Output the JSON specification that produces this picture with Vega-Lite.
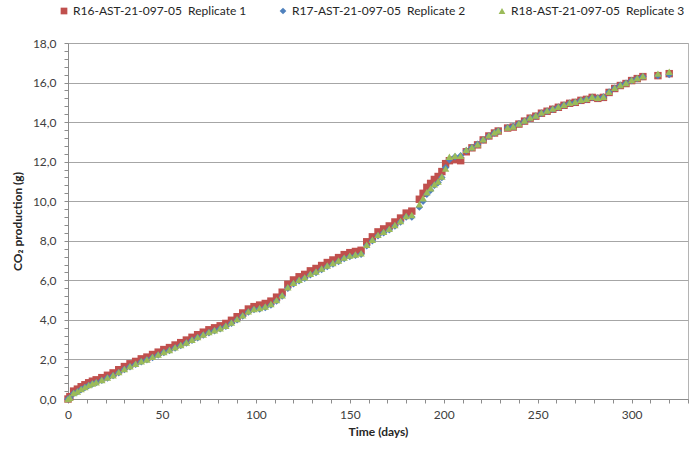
{
  "$schema": "https://vega.github.io/schema/vega-lite/v6.json",
  "width": 620,
  "height": 356,
  "autosize": "none",
  "padding": {"left": 68, "top": 43, "right": 5, "bottom": 50},
  "background": "white",
  "config": {
    "font": "Lato",
    "view": {"stroke": "#b4b4b4", "strokeWidth": 1},
    "axis": {"labelFont": "Lato", "titleFont": "Lato", "labelColor": "#404040", "titleColor": "#262626", "labelFontSize": 12, "titleFontSize": 12, "titleFontWeight": "bold", "domainColor": "#8c8c8c", "tickColor": "#8c8c8c", "gridColor": "#a6a6a6", "gridWidth": 1.2}
  },
  "datasets": {
    "r16": [
      {"t":0,"y":0},{"t":1,"y":0.12},{"t":3,"y":0.4},{"t":5,"y":0.5},{"t":7,"y":0.62},{"t":9,"y":0.72},{"t":11,"y":0.82},{"t":13,"y":0.9},{"t":15,"y":0.97},{"t":18,"y":1.08},{"t":21,"y":1.2},{"t":24,"y":1.32},{"t":27,"y":1.48},{"t":30,"y":1.64},{"t":33,"y":1.78},{"t":36,"y":1.9},{"t":39,"y":2.03},{"t":42,"y":2.12},{"t":45,"y":2.25},{"t":48,"y":2.37},{"t":51,"y":2.5},{"t":54,"y":2.6},{"t":57,"y":2.73},{"t":60,"y":2.85},{"t":63,"y":2.98},{"t":66,"y":3.12},{"t":69,"y":3.25},{"t":72,"y":3.38},{"t":75,"y":3.5},{"t":78,"y":3.6},{"t":81,"y":3.7},{"t":84,"y":3.82},{"t":87,"y":3.98},{"t":90,"y":4.16},{"t":93,"y":4.35},{"t":96,"y":4.55},{"t":99,"y":4.67},{"t":102,"y":4.75},{"t":105,"y":4.83},{"t":108,"y":4.95},{"t":111,"y":5.15},{"t":114,"y":5.4},{"t":117,"y":5.8},{"t":120,"y":6.02},{"t":123,"y":6.18},{"t":126,"y":6.3},{"t":129,"y":6.48},{"t":132,"y":6.6},{"t":135,"y":6.75},{"t":138,"y":6.9},{"t":141,"y":7.03},{"t":144,"y":7.15},{"t":147,"y":7.3},{"t":150,"y":7.4},{"t":153,"y":7.46},{"t":156,"y":7.52},{"t":159,"y":7.95},{"t":162,"y":8.2},{"t":165,"y":8.45},{"t":168,"y":8.6},{"t":171,"y":8.75},{"t":174,"y":8.95},{"t":177,"y":9.15},{"t":180,"y":9.4},{"t":183,"y":9.5},{"t":187,"y":10.1},{"t":189,"y":10.4},{"t":191,"y":10.7},{"t":193,"y":10.9},{"t":195,"y":11.1},{"t":197,"y":11.25},{"t":199,"y":11.5},{"t":201,"y":11.9},{"t":203,"y":12.05},{"t":206,"y":12.1},{"t":209,"y":12.05},{"t":212,"y":12.5},{"t":215,"y":12.7},{"t":218,"y":12.85},{"t":221,"y":13.1},{"t":224,"y":13.3},{"t":227,"y":13.45},{"t":229,"y":13.55},{"t":234,"y":13.7},{"t":237,"y":13.75},{"t":240,"y":13.9},{"t":243,"y":14.05},{"t":246,"y":14.2},{"t":249,"y":14.3},{"t":252,"y":14.45},{"t":255,"y":14.55},{"t":258,"y":14.65},{"t":261,"y":14.75},{"t":264,"y":14.85},{"t":267,"y":14.95},{"t":270,"y":15.0},{"t":273,"y":15.1},{"t":276,"y":15.15},{"t":279,"y":15.25},{"t":282,"y":15.2},{"t":285,"y":15.25},{"t":288,"y":15.5},{"t":291,"y":15.7},{"t":294,"y":15.85},{"t":297,"y":15.95},{"t":300,"y":16.1},{"t":303,"y":16.2},{"t":306,"y":16.3},{"t":314,"y":16.35},{"t":320,"y":16.45}
    ],
    "r17": [
      {"t":0,"y":0},{"t":1,"y":0.05},{"t":3,"y":0.28},{"t":5,"y":0.36},{"t":7,"y":0.48},{"t":9,"y":0.58},{"t":11,"y":0.68},{"t":13,"y":0.76},{"t":15,"y":0.83},{"t":18,"y":0.94},{"t":21,"y":1.06},{"t":24,"y":1.18},{"t":27,"y":1.33},{"t":30,"y":1.49},{"t":33,"y":1.63},{"t":36,"y":1.75},{"t":39,"y":1.88},{"t":42,"y":1.98},{"t":45,"y":2.1},{"t":48,"y":2.22},{"t":51,"y":2.35},{"t":54,"y":2.45},{"t":57,"y":2.58},{"t":60,"y":2.7},{"t":63,"y":2.83},{"t":66,"y":2.97},{"t":69,"y":3.1},{"t":72,"y":3.23},{"t":75,"y":3.35},{"t":78,"y":3.45},{"t":81,"y":3.55},{"t":84,"y":3.67},{"t":87,"y":3.83},{"t":90,"y":4.0},{"t":93,"y":4.2},{"t":96,"y":4.4},{"t":99,"y":4.52},{"t":102,"y":4.55},{"t":105,"y":4.63},{"t":108,"y":4.75},{"t":111,"y":4.95},{"t":114,"y":5.2},{"t":117,"y":5.6},{"t":120,"y":5.82},{"t":123,"y":5.98},{"t":126,"y":6.1},{"t":129,"y":6.28},{"t":132,"y":6.4},{"t":135,"y":6.55},{"t":138,"y":6.7},{"t":141,"y":6.83},{"t":144,"y":6.95},{"t":147,"y":7.1},{"t":150,"y":7.2},{"t":153,"y":7.26},{"t":156,"y":7.32},{"t":159,"y":7.75},{"t":162,"y":8.0},{"t":165,"y":8.25},{"t":168,"y":8.4},{"t":171,"y":8.55},{"t":174,"y":8.75},{"t":177,"y":8.95},{"t":180,"y":9.2},{"t":183,"y":9.2},{"t":187,"y":9.7},{"t":189,"y":10.0},{"t":191,"y":10.35},{"t":193,"y":10.55},{"t":195,"y":10.8},{"t":197,"y":10.95},{"t":199,"y":11.2},{"t":201,"y":11.7},{"t":203,"y":12.1},{"t":206,"y":12.25},{"t":209,"y":12.3},{"t":212,"y":12.55},{"t":215,"y":12.72},{"t":218,"y":12.88},{"t":221,"y":13.1},{"t":224,"y":13.3},{"t":227,"y":13.45},{"t":229,"y":13.55},{"t":234,"y":13.72},{"t":237,"y":13.78},{"t":240,"y":13.92},{"t":243,"y":14.05},{"t":246,"y":14.2},{"t":249,"y":14.3},{"t":252,"y":14.45},{"t":255,"y":14.55},{"t":258,"y":14.65},{"t":261,"y":14.75},{"t":264,"y":14.85},{"t":267,"y":14.95},{"t":270,"y":15.0},{"t":273,"y":15.1},{"t":276,"y":15.15},{"t":279,"y":15.25},{"t":282,"y":15.22},{"t":285,"y":15.27},{"t":288,"y":15.52},{"t":291,"y":15.72},{"t":294,"y":15.87},{"t":297,"y":15.97},{"t":300,"y":16.1},{"t":303,"y":16.2},{"t":306,"y":16.3},{"t":314,"y":16.35},{"t":320,"y":16.4}
    ],
    "r18": [
      {"t":0,"y":0},{"t":1,"y":0.06},{"t":3,"y":0.3},{"t":5,"y":0.38},{"t":7,"y":0.5},{"t":9,"y":0.6},{"t":11,"y":0.7},{"t":13,"y":0.78},{"t":15,"y":0.85},{"t":18,"y":0.96},{"t":21,"y":1.08},{"t":24,"y":1.2},{"t":27,"y":1.36},{"t":30,"y":1.52},{"t":33,"y":1.66},{"t":36,"y":1.78},{"t":39,"y":1.91},{"t":42,"y":2.0},{"t":45,"y":2.13},{"t":48,"y":2.25},{"t":51,"y":2.38},{"t":54,"y":2.48},{"t":57,"y":2.61},{"t":60,"y":2.73},{"t":63,"y":2.86},{"t":66,"y":3.0},{"t":69,"y":3.13},{"t":72,"y":3.26},{"t":75,"y":3.38},{"t":78,"y":3.48},{"t":81,"y":3.58},{"t":84,"y":3.7},{"t":87,"y":3.86},{"t":90,"y":4.04},{"t":93,"y":4.23},{"t":96,"y":4.43},{"t":99,"y":4.55},{"t":102,"y":4.6},{"t":105,"y":4.68},{"t":108,"y":4.8},{"t":111,"y":5.0},{"t":114,"y":5.25},{"t":117,"y":5.65},{"t":120,"y":5.87},{"t":123,"y":6.03},{"t":126,"y":6.15},{"t":129,"y":6.33},{"t":132,"y":6.45},{"t":135,"y":6.6},{"t":138,"y":6.75},{"t":141,"y":6.88},{"t":144,"y":7.0},{"t":147,"y":7.15},{"t":150,"y":7.25},{"t":153,"y":7.31},{"t":156,"y":7.37},{"t":159,"y":7.8},{"t":162,"y":8.05},{"t":165,"y":8.3},{"t":168,"y":8.45},{"t":171,"y":8.6},{"t":174,"y":8.8},{"t":177,"y":9.0},{"t":180,"y":9.25},{"t":183,"y":9.3},{"t":187,"y":9.85},{"t":189,"y":10.15},{"t":191,"y":10.45},{"t":193,"y":10.65},{"t":195,"y":10.85},{"t":197,"y":11.0},{"t":199,"y":11.25},{"t":201,"y":11.65},{"t":203,"y":12.25},{"t":206,"y":12.3},{"t":209,"y":12.3},{"t":212,"y":12.6},{"t":215,"y":12.73},{"t":218,"y":12.88},{"t":221,"y":13.13},{"t":224,"y":13.33},{"t":227,"y":13.48},{"t":229,"y":13.58},{"t":234,"y":13.73},{"t":237,"y":13.78},{"t":240,"y":13.93},{"t":243,"y":14.08},{"t":246,"y":14.23},{"t":249,"y":14.33},{"t":252,"y":14.48},{"t":255,"y":14.58},{"t":258,"y":14.68},{"t":261,"y":14.78},{"t":264,"y":14.88},{"t":267,"y":14.98},{"t":270,"y":15.03},{"t":273,"y":15.13},{"t":276,"y":15.18},{"t":279,"y":15.28},{"t":282,"y":15.23},{"t":285,"y":15.28},{"t":288,"y":15.53},{"t":291,"y":15.73},{"t":294,"y":15.88},{"t":297,"y":15.98},{"t":300,"y":16.13},{"t":303,"y":16.23},{"t":306,"y":16.33},{"t":314,"y":16.45},{"t":320,"y":16.55}
    ]
  },
  "encoding": {
    "x": {
      "field": "t", "type": "quantitative",
      "scale": {"domain": [0, 330], "nice": false, "zero": true},
      "axis": {
        "title": "Time (days)",
        "values": [0,10,20,30,40,50,60,70,80,90,100,110,120,130,140,150,160,170,180,190,200,210,220,230,240,250,260,270,280,290,300,310,320,330],
        "labelExpr": "datum.value % 50 === 0 ? datum.value : ''",
        "labelOverlap": false, "labelFlush": false,
        "grid": false, "tickSize": 4, "labelPadding": 6, "titlePadding": 6
      }
    },
    "y": {
      "field": "y", "type": "quantitative",
      "scale": {"domain": [0, 18], "nice": false},
      "axis": {
        "title": "CO₂ production (g)",
        "values": [0,0.4,0.8,1.2,1.6,2,2.4,2.8,3.2,3.6,4,4.4,4.8,5.2,5.6,6,6.4,6.8,7.2,7.6,8,8.4,8.8,9.2,9.6,10,10.4,10.8,11.2,11.6,12,12.4,12.8,13.2,13.6,14,14.4,14.8,15.2,15.6,16,16.4,16.8,17.2,17.6,18],
        "labelExpr": "abs(datum.value/2 - round(datum.value/2)) < 0.01 ? replace(format(datum.value, '.1f'), '.', ',') : ''",
        "gridOpacity": {"condition": {"test": "abs(datum.value/2 - round(datum.value/2)) < 0.01", "value": 1}, "value": 0},
        "labelOverlap": false, "labelFlush": false,
        "tickSize": 4, "labelPadding": 8, "titlePadding": 8
      }
    }
  },
  "layer": [
    {
      "data": {"name": "r16"},
      "mark": {"type": "point", "filled": true, "opacity": 1, "size": 55},
      "encoding": {
        "color": {"datum": "R16-AST-21-097-05\u00a0 Replicate 1", "type": "nominal",
          "scale": {"domain": ["R16-AST-21-097-05\u00a0 Replicate 1", "R17-AST-21-097-05\u00a0 Replicate 2", "R18-AST-21-097-05\u00a0 Replicate 3"], "range": ["#C0504D", "#4F81BD", "#9BBB59"]},
          "legend": {"title": null, "orient": "none", "direction": "horizontal", "legendX": -10, "legendY": -38, "columnPadding": 30, "labelLimit": 400, "labelFont": "Lato", "labelFontSize": 12, "labelColor": "#262626", "symbolSize": 45, "labelOffset": 3}},
        "shape": {"datum": "R16-AST-21-097-05\u00a0 Replicate 1", "type": "nominal",
          "scale": {"domain": ["R16-AST-21-097-05\u00a0 Replicate 1", "R17-AST-21-097-05\u00a0 Replicate 2", "R18-AST-21-097-05\u00a0 Replicate 3"], "range": ["square", "diamond", "triangle-up"]}}
      }
    },
    {
      "data": {"name": "r17"},
      "mark": {"type": "point", "filled": true, "opacity": 1, "size": 55},
      "encoding": {
        "color": {"datum": "R17-AST-21-097-05\u00a0 Replicate 2", "type": "nominal"},
        "shape": {"datum": "R17-AST-21-097-05\u00a0 Replicate 2", "type": "nominal"}
      }
    },
    {
      "data": {"name": "r18"},
      "mark": {"type": "point", "filled": true, "opacity": 1, "size": 55},
      "encoding": {
        "color": {"datum": "R18-AST-21-097-05\u00a0 Replicate 3", "type": "nominal"},
        "shape": {"datum": "R18-AST-21-097-05\u00a0 Replicate 3", "type": "nominal"}
      }
    }
  ]
}
